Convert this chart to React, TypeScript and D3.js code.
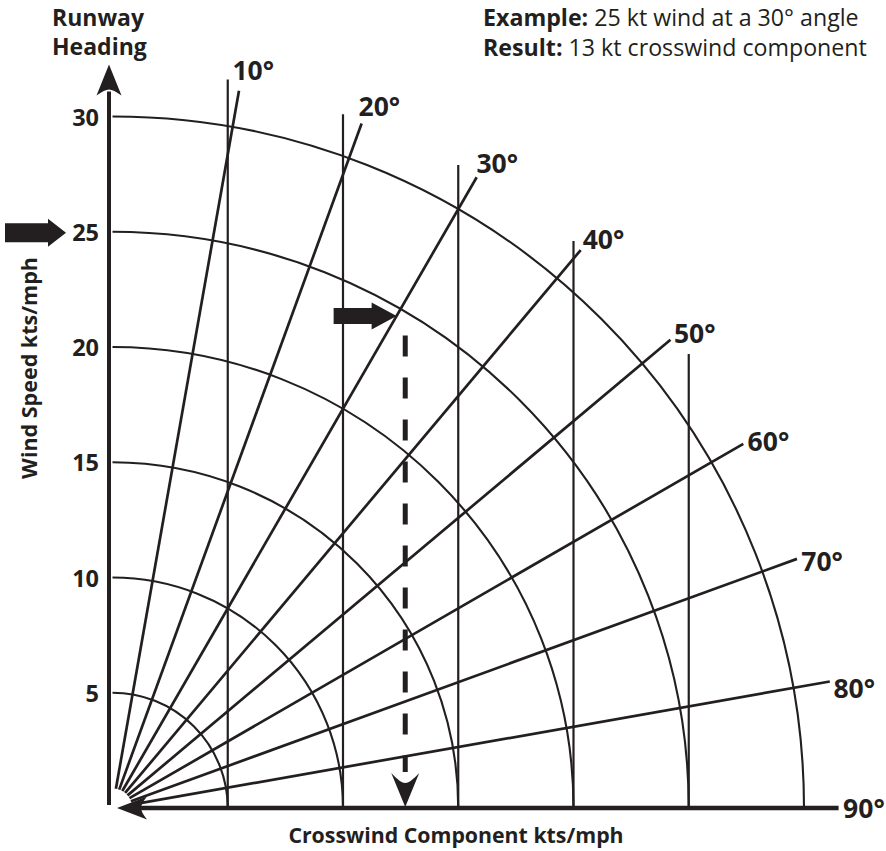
import React from "react";
import * as d3 from "d3";

// ---- data ----
const ANGLES = [10, 20, 30, 40, 50, 60, 70, 80];
const SPEED_ARCS = [5, 10, 15, 20, 25, 30];
const SPEED_TICKS = [5, 10, 15, 20, 25, 30];
const CROSS_LINES = [5, 10, 15, 20, 25];
const CROSS_TOPS = [31.6, 30.1, 27.9, 24.6, 19.7];
const RADIAL_START = 0.85;
const RADIAL_END = 31.6;
const LABEL_R = 32.6;
const EXAMPLE_SPEED = 25;
const EXAMPLE_ANGLE = 30;
const EXAMPLE_CROSS = 12.7;
const DASH_TOP = 20.5;
const TITLE_1 = ["Example:", " 25 kt wind at a 30° angle"];
const TITLE_2 = ["Result:", " 13 kt crosswind component"];
const Y_TITLE = "Wind Speed kts/mph";
const X_TITLE = "Crosswind Component kts/mph";
const AXIS_TITLE = ["Runway", "Heading"];

const W = 886;
const H = 851;
const INK = "#231f20";
const FONT = "'Open Sans', 'Noto Sans', sans-serif";

export default function App() {
  const ox = 112.5;
  const oy = 808;
  const r = d3.scaleLinear().domain([0, 30]).range([0, 691.5]);
  const px = (v: number) => ox + r(v);
  const py = (v: number) => oy - r(v);
  const polar = (rad: number, deg: number) => {
    const a = (deg * Math.PI) / 180;
    return [ox + r(rad) * Math.sin(a), oy - r(rad) * Math.cos(a)];
  };

  const arcPath = (s: number) => {
    const p = d3.path();
    p.arc(ox, oy, r(s), -Math.PI / 2, 0);
    return p.toString();
  };

  const [ix, iy] = polar(EXAMPLE_SPEED, EXAMPLE_ANGLE);
  const dashX = px(EXAMPLE_CROSS);

  const fatArrow = (tx: number, ty: number, bodyLen: number, bodyH: number, headLen: number, headH: number) =>
    `M${tx},${ty} L${tx - headLen},${ty - headH} L${tx - headLen},${ty - bodyH} L${tx - headLen - bodyLen},${ty - bodyH} L${tx - headLen - bodyLen},${ty + bodyH} L${tx - headLen},${ty + bodyH} L${tx - headLen},${ty + headH} Z`;

  const notchHead = (tx: number, ty: number, dx: number, dy: number, len: number, half: number, notch: number) => {
    const nx = -dy, ny = dx;
    const bx = tx - dx * len, by = ty - dy * len;
    const cx = tx - dx * (len - notch), cy = ty - dy * (len - notch);
    return `M${tx},${ty} L${bx + nx * half},${by + ny * half} Q${cx + nx * half * 0.35},${cy + ny * half * 0.35} ${cx},${cy} Q${cx - nx * half * 0.35},${cy - ny * half * 0.35} ${bx - nx * half},${by - ny * half} Z`;
  };

  const yAxisX = ox - 3.5;

  return (
    <svg width={W} height={H} style={{ display: "block", position: "absolute", left: 0, top: 0 }} fontFamily={FONT}>
      <rect width={W} height={H} fill="#fff" />

      {CROSS_LINES.map((c, i) => (
        <line key={"v" + c} x1={px(c)} x2={px(c)} y1={oy} y2={py(CROSS_TOPS[i])} stroke={INK} strokeWidth={2.2} />
      ))}

      {SPEED_ARCS.map((s) => (
        <path key={"a" + s} d={arcPath(s)} fill="none" stroke={INK} strokeWidth={2.1} />
      ))}

      {ANGLES.map((a) => {
        const [x1, y1] = polar(RADIAL_START, a);
        const [x2, y2] = polar(RADIAL_END, a);
        return <line key={"r" + a} x1={x1} y1={y1} x2={x2} y2={y2} stroke={INK} strokeWidth={2.7} />;
      })}

      {ANGLES.concat([90]).map((a) => {
        const [lx, ly] = polar(LABEL_R, a === 90 ? a : a + 0.8);
        return (
          <text key={"l" + a} x={lx} y={ly} textAnchor="middle" dominantBaseline="central" fontSize={26.5} fontWeight={700} fill={INK}>
            {a}°
          </text>
        );
      })}

      <line x1={yAxisX} x2={yAxisX} y1={oy - 3} y2={py(30) - 25} stroke={INK} strokeWidth={4} />
      <path d={notchHead(yAxisX, py(30) - 52, 0, -1, 31, 12.5, 6)} fill={INK} />

      <line x1={ox + 26} x2={px(31.5)} y1={oy} y2={oy} stroke={INK} strokeWidth={4.5} />
      <path d={notchHead(ox + 4.5, oy, -1, 0, 30, 11.5, 6)} fill={INK} />

      {SPEED_TICKS.map((t) => (
        <text key={"t" + t} x={99} y={py(t)} textAnchor="end" dominantBaseline="central" fontSize={23.5} fontWeight={700} fill={INK}>
          {t}
        </text>
      ))}

      <line x1={dashX} x2={dashX} y1={py(DASH_TOP)} y2={oy - 36} stroke={INK} strokeWidth={5} strokeDasharray="21 21" />
      <path d={notchHead(dashX, oy - 1, 0, 1, 34, 14, 10)} fill={INK} />

      <path d={fatArrow(ix - 4, iy + 7, 38, 8, 25, 13.5)} fill={INK} />

      <path d={fatArrow(66, py(EXAMPLE_SPEED) + 1, 43, 9.5, 18, 14)} fill={INK} />

      <text x={52} y={26} fontSize={23} fontWeight={700} fill={INK}>{AXIS_TITLE[0]}</text>
      <text x={52} y={55} fontSize={23} fontWeight={700} fill={INK}>{AXIS_TITLE[1]}</text>

      <text transform={`translate(28,368) rotate(-90)`} textAnchor="middle" dominantBaseline="central" fontSize={21.5} fontWeight={700} fill={INK}>
        {Y_TITLE}
      </text>
      <text x={456} y={843} textAnchor="middle" fontSize={21.3} fontWeight={700} fill={INK}>
        {X_TITLE}
      </text>

      <text x={483} y={26} fontSize={23.2} fill={INK}>
        <tspan fontWeight={700}>{TITLE_1[0]}</tspan>
        <tspan>{TITLE_1[1]}</tspan>
      </text>
      <text x={483} y={56} fontSize={23.2} fill={INK}>
        <tspan fontWeight={700}>{TITLE_2[0]}</tspan>
        <tspan>{TITLE_2[1]}</tspan>
      </text>
    </svg>
  );
}
